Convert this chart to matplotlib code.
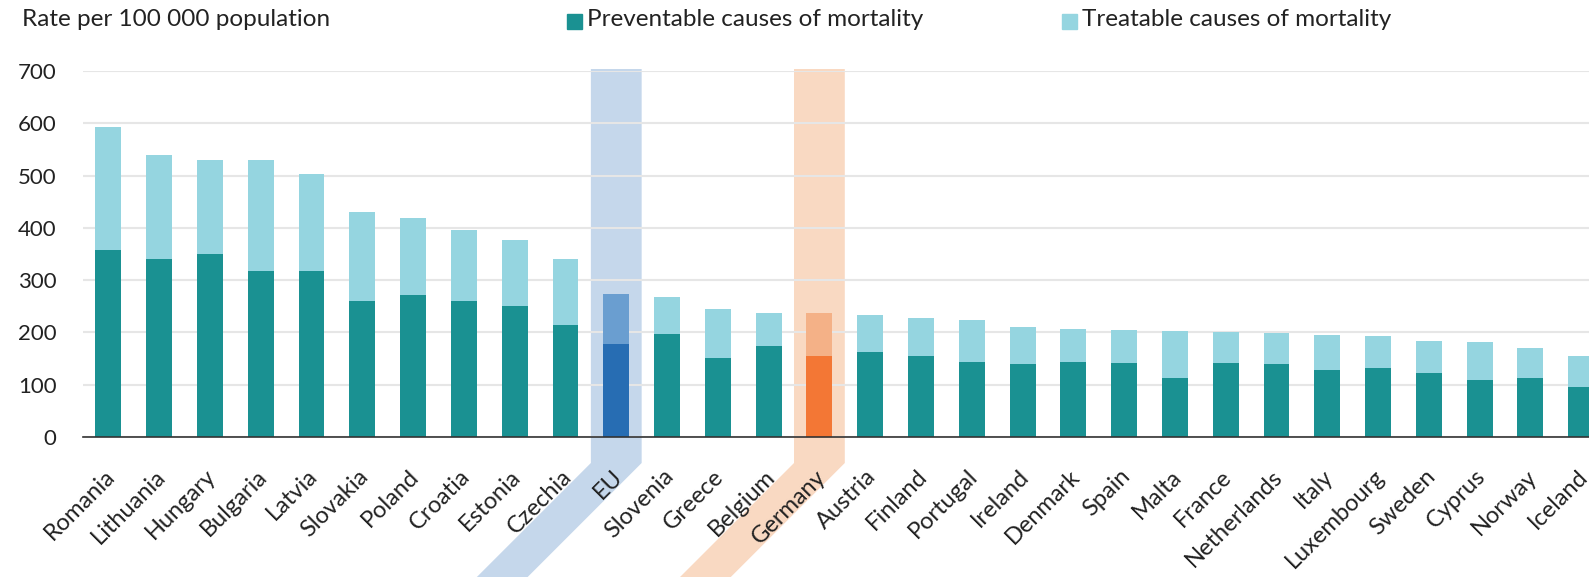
import numpy as np
import matplotlib.pyplot as plt
from matplotlib.patches import Polygon, Rectangle
from matplotlib.transforms import IdentityTransform, ScaledTranslation

plt.rcParams['font.family'] = ['Lato', 'DejaVu Sans']

# Data: rate per 100 000 population
countries = ['Romania', 'Lithuania', 'Hungary', 'Bulgaria', 'Latvia', 'Slovakia',
             'Poland', 'Croatia', 'Estonia', 'Czechia', 'EU', 'Slovenia', 'Greece',
             'Belgium', 'Germany', 'Austria', 'Finland', 'Portugal', 'Ireland',
             'Denmark', 'Spain', 'Malta', 'France', 'Netherlands', 'Italy',
             'Luxembourg', 'Sweden', 'Cyprus', 'Norway', 'Iceland']
preventable = [357, 340, 350, 317, 317, 260, 272, 260, 250, 214, 178, 197, 151,
               174, 155, 162, 155, 143, 139, 143, 141, 113, 141, 139, 128,
               132, 122, 109, 113, 96]
treatable = [236, 200, 180, 213, 186, 171, 146, 135, 126, 126, 96, 71, 93,
             64, 82, 72, 72, 81, 71, 64, 63, 90, 59, 60, 68,
             61, 62, 73, 58, 59]

# Colours
c_prev = '#1a9192'
c_treat = '#95d5e0'
c_eu = ('#276db3', '#6a9ed0', '#6e9bcf')
c_de = ('#f37735', '#f4b187', '#f0a067')

W, H = 1589, 581
fig = plt.figure(figsize=(W / 100, H / 100), dpi=100)
ax = fig.add_axes([83 / W, 144 / H, (W - 83) / W, 366 / H])

x = np.arange(len(countries))
prev_cols, treat_cols = [], []
for c in countries:
    if c == 'EU':
        prev_cols.append(c_eu[0]); treat_cols.append(c_eu[1])
    elif c == 'Germany':
        prev_cols.append(c_de[0]); treat_cols.append(c_de[1])
    else:
        prev_cols.append(c_prev); treat_cols.append(c_treat)

ax.bar(x, preventable, width=0.51, color=prev_cols, zorder=2)
ax.bar(x, treatable, width=0.51, bottom=preventable, color=treat_cols, zorder=2)

ax.set_xlim(-0.5, (W - 108) / 50.8)
ax.set_ylim(0, 700)
ax.set_yticks(range(0, 701, 100))
ax.yaxis.grid(True, color='#e6e6e6', linewidth=1.5)
ax.set_axisbelow('line')
for s in ['top', 'right', 'left']:
    ax.spines[s].set_visible(False)
ax.spines['bottom'].set_color('#333333')
ax.spines['bottom'].set_linewidth(1.2)
ax.spines['bottom'].set_zorder(3)
ax.tick_params(axis='y', length=0, pad=19, labelsize=16, labelcolor='#222222')
ax.tick_params(axis='x', length=0, pad=26, labelsize=17, labelcolor='#222222')
ax.set_xticks(x)
ax.set_xticklabels(countries, rotation=45, ha='right', va='center',
                   rotation_mode='anchor')
offset = ScaledTranslation(2 / 72, 0, fig.dpi_scale_trans)
for lab in ax.get_xticklabels():
    lab.set_transform(lab.get_transform() + offset)

# Highlight bands (vertical strip that bends along the rotated label)
for name, cols in [('EU', c_eu), ('Germany', c_de)]:
    i = countries.index(name)
    xl, y0 = ax.transData.transform((i - 0.5, 0))
    xr, ytop = ax.transData.transform((i + 0.5, 700))
    ybreak = y0 - 26
    slant = 114
    verts = [(xl, ytop + 2), (xr, ytop + 2), (xr, ybreak),
             (xr - slant, ybreak - slant), (xl - slant, ybreak - slant), (xl, ybreak)]
    poly = Polygon(verts, closed=True, facecolor=cols[2], alpha=0.4,
                   edgecolor='none', transform=IdentityTransform(),
                   clip_on=False, zorder=1)
    ax.add_patch(poly)

# Title and legend
fig.text(22 / W, 1 - 20 / H, 'Rate per 100 000 population', fontsize=17.5,
         color='#222222', va='center', ha='left')
for xs, col, label in [(567, c_prev, 'Preventable causes of mortality'),
                       (1062, c_treat, 'Treatable causes of mortality')]:
    fig.add_artist(Rectangle((xs / W, 1 - 29 / H), 15 / W, 15 / H,
                             transform=fig.transFigure, color=col))
    fig.text((xs + 20) / W, 1 - 20 / H, label, fontsize=17.5, color='#222222',
             va='center', ha='left')

fig.savefig('out.png', dpi=100)
